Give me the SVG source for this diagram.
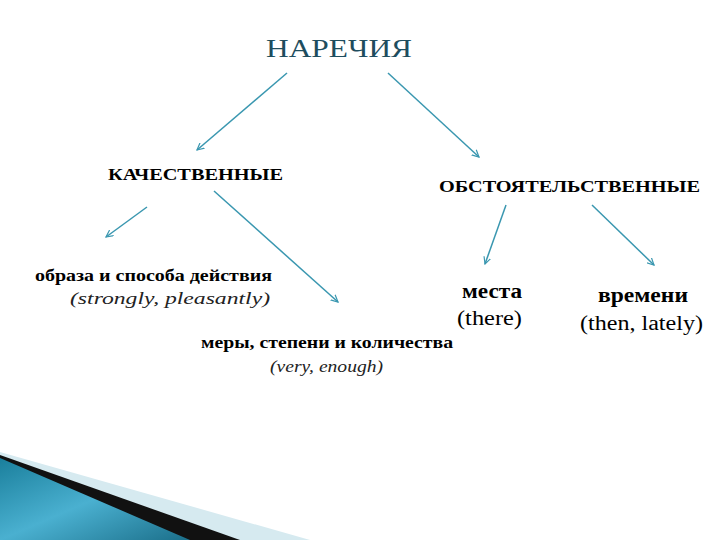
<svg xmlns="http://www.w3.org/2000/svg" width="720" height="540" viewBox="0 0 720 540">
<defs>
<style>
.c{stroke:#3a97b0;stroke-width:1.5;fill:none;marker-end:url(#a)}
.b{font-family:"Liberation Serif","DejaVu Serif",serif;font-weight:bold;font-size:16px;fill:#000}
.i{font-family:"Liberation Serif","DejaVu Serif",serif;font-style:italic;font-size:16px;fill:#222}
.r{font-family:"Liberation Serif","DejaVu Serif",serif;font-size:20px;fill:#000}
</style>
<marker id="a" markerWidth="8" markerHeight="8" refX="7" refY="4" orient="auto" markerUnits="userSpaceOnUse"><path d="M0,0.5 L7,4 L0,7.5" fill="none" stroke="#3a97b0" stroke-width="1.2"/></marker>
<linearGradient id="g" x1="0" y1="0" x2="1" y2="1"><stop offset="0" stop-color="#1a7f9c"/><stop offset="0.5" stop-color="#4ab0d0"/><stop offset="1" stop-color="#1b6f8a"/></linearGradient>
</defs>
<rect width="720" height="540" fill="#fff"/>
<polygon points="0,452 310,540 0,540" fill="#d6eaf0"/>
<polygon points="0,455 240,540 0,540" fill="#111"/>
<polygon points="0,458 190,540 0,540" fill="url(#g)"/>
<g id="connectors">
<line class="c" x1="287" y1="73" x2="197" y2="150"/>
<line class="c" x1="388" y1="73" x2="479" y2="157"/>
<line class="c" x1="147" y1="207" x2="106" y2="237"/>
<line class="c" x1="214" y1="191" x2="338" y2="302"/>
<line class="c" x1="506" y1="205" x2="485" y2="264"/>
<line class="c" x1="592" y1="205" x2="654" y2="265"/>
</g>
<g id="root"><text x="266" y="57" textLength="146" lengthAdjust="spacingAndGlyphs" font-family="Liberation Serif,serif" font-size="26" fill="#1e4d5e">НАРЕЧИЯ</text></g>
<g id="kach"><text class="b" x="108" y="180" textLength="175" lengthAdjust="spacingAndGlyphs">КАЧЕСТВЕННЫЕ</text></g>
<g id="obst"><text class="b" x="439" y="192" textLength="261" lengthAdjust="spacingAndGlyphs">ОБСТОЯТЕЛЬСТВЕННЫЕ</text></g>
<g id="obraz"><text class="b" x="35" y="281" textLength="237" lengthAdjust="spacingAndGlyphs">образа и способа действия</text><text class="i" x="70" y="304" textLength="200" lengthAdjust="spacingAndGlyphs">(strongly, pleasantly)</text></g>
<g id="mery"><text class="b" x="201" y="348" textLength="252" lengthAdjust="spacingAndGlyphs">меры, степени и количества</text><text class="i" x="270" y="372" textLength="113" lengthAdjust="spacingAndGlyphs">(very, enough)</text></g>
<g id="mesta"><text class="r" x="462" y="298" font-weight="bold" textLength="60" lengthAdjust="spacingAndGlyphs">места</text><text class="r" x="457" y="325" textLength="65" lengthAdjust="spacingAndGlyphs">(there)</text></g>
<g id="vrem"><text class="r" x="598" y="302" font-weight="bold" textLength="90" lengthAdjust="spacingAndGlyphs">времени</text><text class="r" x="580" y="330" textLength="123" lengthAdjust="spacingAndGlyphs">(then, lately)</text></g>
</svg>
